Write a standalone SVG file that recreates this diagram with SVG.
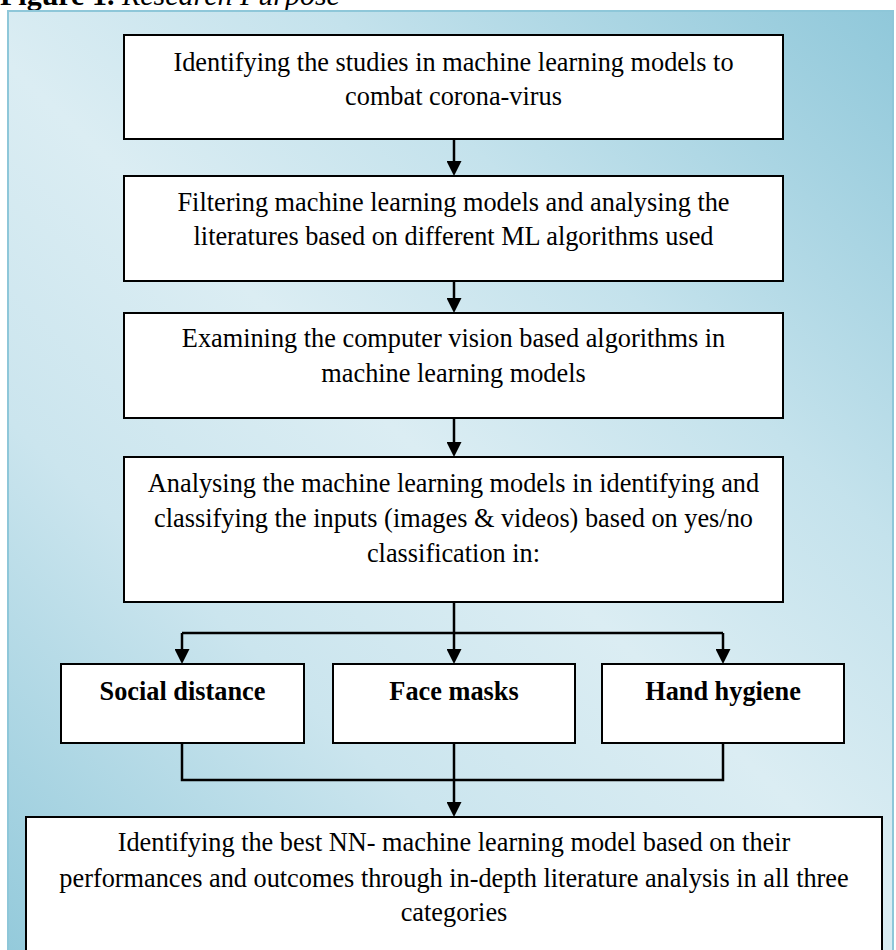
<svg xmlns="http://www.w3.org/2000/svg" width="896" height="950" viewBox="0 0 896 950">
<defs>
<linearGradient id="bg" gradientUnits="userSpaceOnUse" x1="893" y1="12" x2="8" y2="950">
<stop offset="0" stop-color="#90c8da"/>
<stop offset="0.3" stop-color="#c4e2ec"/>
<stop offset="0.5" stop-color="#dbedf3"/>
<stop offset="0.7" stop-color="#cbe5ee"/>
<stop offset="1" stop-color="#94cadb"/>
</linearGradient>
<marker id="arr" viewBox="0 0 15 15" refX="5" refY="7.5" markerWidth="15" markerHeight="15" markerUnits="userSpaceOnUse" orient="auto">
<path d="M0,0 L15,7.5 L0,15 Z" fill="#000"/>
</marker>
<style>
.box{fill:#fff;stroke:#000;stroke-width:2}
.t{font-family:"Liberation Serif","Times New Roman",serif;font-size:26.3px;fill:#000;text-anchor:middle}
.b{font-weight:bold}
.c{fill:none;stroke:#000;stroke-width:2.5}
.a{marker-end:url(#arr)}
</style>
</defs>
<text x="0" y="5" style="font-family:'Liberation Serif','Times New Roman',serif;font-size:30px;fill:#000"><tspan font-weight="bold">Figure 1.</tspan><tspan font-style="italic"> Research Purpose</tspan></text>
<rect x="8" y="11" width="885" height="960" fill="url(#bg)" stroke="#8ec7d9" stroke-width="2"/>
<g id="connectors">
<path class="c a" d="M454,139 V166"/>
<path class="c a" d="M454,281 V303"/>
<path class="c a" d="M454,418 V447"/>
<path class="c" d="M454,602 V633 M182,633 H723"/>
<path class="c a" d="M182,633 V654"/>
<path class="c a" d="M454,633 V654"/>
<path class="c a" d="M723,633 V654"/>
<path class="c" d="M182,743 V780 H723 V743"/>
<path class="c a" d="M454,743 V807"/>
</g>
<g id="n1">
<rect class="box" x="124" y="35" width="659" height="104"/>
<text class="t" x="453.5" y="71">Identifying the studies in machine learning models to</text>
<text class="t" x="453.5" y="105">combat corona-virus</text>
</g>
<g id="n2">
<rect class="box" x="124" y="176" width="659" height="105"/>
<text class="t" x="453.5" y="211">Filtering machine learning models and analysing the</text>
<text class="t" x="453.5" y="245">literatures based on different ML algorithms used</text>
</g>
<g id="n3">
<rect class="box" x="124" y="313" width="659" height="105"/>
<text class="t" x="453.5" y="347">Examining the computer vision based algorithms in</text>
<text class="t" x="453.5" y="382">machine learning models</text>
</g>
<g id="n4">
<rect class="box" x="124" y="457" width="659" height="145"/>
<text class="t" x="453.5" y="492">Analysing the machine learning models in identifying and</text>
<text class="t" x="453.5" y="527">classifying the inputs (images &amp; videos) based on yes/no</text>
<text class="t" x="453.5" y="562">classification in:</text>
</g>
<g id="n5">
<rect class="box" x="61" y="664" width="243" height="79"/>
<text class="t b" x="182.5" y="700">Social distance</text>
</g>
<g id="n6">
<rect class="box" x="333" y="664" width="242" height="79"/>
<text class="t b" x="454" y="700">Face masks</text>
</g>
<g id="n7">
<rect class="box" x="602" y="664" width="242" height="79"/>
<text class="t b" x="723" y="700">Hand hygiene</text>
</g>
<g id="n8">
<rect class="box" x="26" y="817" width="856" height="160"/>
<text class="t" x="454" y="851">Identifying the best NN- machine learning model based on their</text>
<text class="t" x="454" y="887">performances and outcomes through in-depth literature analysis in all three</text>
<text class="t" x="454" y="921">categories</text>
</g>
</svg>
